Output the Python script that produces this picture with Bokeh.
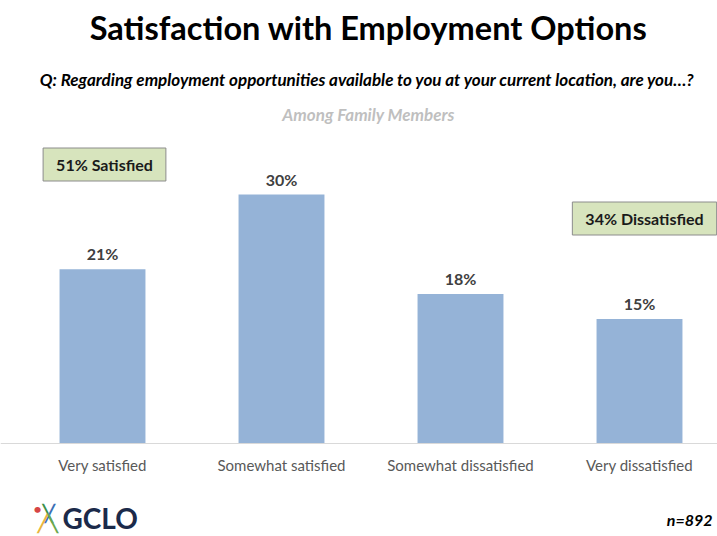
from bokeh.plotting import figure
from bokeh.models import Range1d, Label, ColumnDataSource, Span
from bokeh.core.properties import value
from bokeh.embed import file_html
from bokeh.resources import INLINE

categories = ["Very satisfied", "Somewhat satisfied", "Somewhat dissatisfied", "Very dissatisfied"]
values = [21, 30, 18, 15]
value_labels = ["21%", "30%", "18%", "15%"]
title_text = "Satisfaction with Employment Options"
question_text = "Q: Regarding employment opportunities available to you at your current location, are you\u2026?"
subgroup_text = "Among Family Members"
satisfied_text = "51% Satisfied"
dissatisfied_text = "34% Dissatisfied"
n_text = "n=892"
logo_text = "GCLO"

FONT = "Lato"
W, H = 717, 536
BASE = 443          # baseline, px from top
PX_PER_UNIT = 8.3
COL = 179.0

xs = list(range(len(categories)))
src = ColumnDataSource(dict(x=xs, top=values, lab=value_labels, cat=categories))

x0 = -102 / COL
p = figure(width=W, height=H, output_backend="svg", toolbar_location=None,
           x_range=Range1d(x0, x0 + W / COL),
           y_range=Range1d(-(H - BASE) / PX_PER_UNIT, BASE / PX_PER_UNIT),
           min_border=0, outline_line_color=None,
           background_fill_color="white", border_fill_color="white")
p.grid.visible = False
p.axis.visible = False

p.add_layout(Span(location=0, dimension="width", line_color="#d9d9d9", line_width=1))

p.vbar(x="x", top="top", width=0.48, source=src, fill_color="#95b3d7", line_color=None)
p.text(x="x", y="top", text="lab", source=src, text_align="center", text_baseline="bottom",
       y_offset=-6, text_font=value(FONT), text_font_style="bold", text_font_size="16px",
       text_color="#404040")
p.text(x="x", y=0, text="cat", source=src, text_align="center", text_baseline="middle",
       y_offset=21, text_font=value(FONT), text_font_size="15px", text_color="#595959")

def lab(text, x, top_px, size, style="normal", color="#000000", align="center", **kw):
    l = Label(x=x, y=H - top_px, x_units="screen", y_units="screen", text=text, text_font=FONT,
              text_font_size=size, text_font_style=style, text_color=color,
              text_align=align, text_baseline="middle", **kw)
    p.add_layout(l)
    return l

lab(title_text, 368, 27, "32.5px", "bold", "#000000")
lab(question_text, 367, 79, "17px", "bold italic", "#000000")
lab(subgroup_text, 368, 114, "17px", "bold italic", "#bfbfbf")
box = dict(background_fill_color="#d7e4bd", border_line_color="#8c8c8c", border_line_width=1,
           padding=dict(left=13, right=13, top=7, bottom=7))
lab(satisfied_text, 104, 164, "16px", "bold", "#1a1a1a", **box)
lab(dissatisfied_text, 644, 218, "16px", "bold", "#1a1a1a", **box)
lab(logo_text, 62, 517, "28px", "bold", "#1b2a4a", align="left")
lab(n_text, 712, 519, "16px", "bold italic", "#000000", align="right")
# small logo mark (stylized figures)
lab("\u2022", 37, 508, "14px", "bold", "#d64545")
lab("\u2572", 47, 512, "16px", "bold", "#3d8f4a")
lab("\u2571", 49, 512, "16px", "bold", "#3a6fb5")
lab("\u2571", 42, 522, "16px", "bold", "#e8b53d")
lab("\u2572", 52, 522, "16px", "bold", "#6aa84f")

open("out.html", "w").write(file_html(p, INLINE))
